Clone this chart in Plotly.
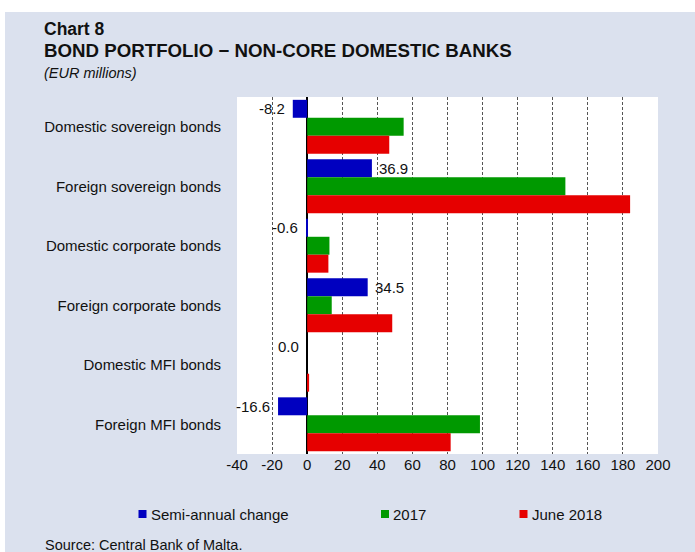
import plotly.graph_objects as go

# ---- data (EUR millions) ----
categories = [
    "Domestic sovereign bonds",
    "Foreign sovereign bonds",
    "Domestic corporate bonds",
    "Foreign corporate bonds",
    "Domestic MFI bonds",
    "Foreign MFI bonds",
]
semi_annual_change = [-8.2, 36.9, -0.6, 34.5, 0.0, -16.6]
end_2017 = [55.0, 147.2, 12.7, 14.0, 0.0, 98.5]
june_2018 = [46.8, 184.1, 12.1, 48.5, 1.1, 81.8]
series_names = ["Semi-annual change", "2017", "June 2018"]
x_tick_values = [-40, -20, 0, 20, 40, 60, 80, 100, 120, 140, 160, 180, 200]

# ---- styling ----
FONT = "Liberation Sans, Arial, sans-serif"
TEXT = "#111111"
PANEL = "#dbe1ee"
COLORS = ["#0000C0", "#009900", "#E60000"]
FS = 15  # body text size

W, H = 695, 552
ML, MR, MT, MB = 237, 37, 97, 98
PW, PH = W - ML - MR, H - MT - MB
BARGAP = 0.095


def px(x):
    """Page pixel x -> paper fraction."""
    return (x - ML) / PW


def py(y):
    """Page pixel y (from top) -> paper fraction."""
    return (H - MB - y) / PH


fig = go.Figure()
for name, vals, col in zip(series_names, [semi_annual_change, end_2017, june_2018], COLORS):
    fig.add_trace(go.Bar(
        y=categories, x=vals, name=name, orientation="h",
        marker=dict(color=col, line=dict(width=0)),
        showlegend=False, hoverinfo="x+name",
    ))

# value labels on the semi-annual change bars
bar_w = (1 - BARGAP) / 3
for i, v in enumerate(semi_annual_change):
    fig.add_annotation(
        x=v, y=i - bar_w, xref="x", yref="y", text=f"{v:.1f}", showarrow=False,
        xanchor="left" if v > 0 else "right", yanchor="middle",
        xshift=5 if v > 0 else -6,
        font=dict(family=FONT, size=FS, color=TEXT),
    )

# titles
titles = [
    ("<b>Chart 8</b>", 28.5, 17.5),
    ("<b>BOND PORTFOLIO \u2212 NON-CORE DOMESTIC BANKS</b>", 50, 18.7),
    ("<i>(EUR millions)</i>", 72.5, 14.5),
]
for txt, y, sz in titles:
    fig.add_annotation(
        x=px(42), y=py(y), xref="paper", yref="paper", text=txt, showarrow=False,
        xanchor="left", yanchor="middle", font=dict(family=FONT, size=sz, color=TEXT),
    )

# legend drawn as swatches + labels
legend_pos = [138.5, 381, 519.5]
for name, col, lx in zip(series_names, COLORS, legend_pos):
    fig.add_shape(
        type="rect", xref="paper", yref="paper",
        x0=px(lx), x1=px(lx + 8), y0=py(518), y1=py(510),
        fillcolor=col, line=dict(width=0),
    )
    fig.add_annotation(
        x=px(lx + 10), y=py(514), xref="paper", yref="paper", text=name, showarrow=False,
        xanchor="left", yanchor="middle", font=dict(family=FONT, size=FS, color=TEXT),
    )

# source note
fig.add_annotation(
    x=px(43), y=py(545), xref="paper", yref="paper", text="Source: Central Bank of Malta.",
    showarrow=False, xanchor="left", yanchor="middle",
    font=dict(family=FONT, size=14.5, color=TEXT),
)

# white strips around the tinted panel
fig.add_shape(type="rect", xref="paper", yref="paper", x0=px(0), x1=px(W), y0=py(12), y1=py(0),
              fillcolor="white", line=dict(width=0), layer="below")
fig.add_shape(type="rect", xref="paper", yref="paper", x0=px(0), x1=px(5), y0=py(H), y1=py(0),
              fillcolor="white", line=dict(width=0), layer="below")

fig.update_layout(
    width=W, height=H,
    margin=dict(l=ML, r=MR, t=MT, b=MB, pad=0),
    paper_bgcolor=PANEL, plot_bgcolor="white",
    barmode="group", bargap=BARGAP, bargroupgap=0,
    font=dict(family=FONT, size=FS, color=TEXT),
    showlegend=False,
)
fig.update_xaxes(
    range=[-40, 200], tickvals=x_tick_values, ticktext=[str(v) for v in x_tick_values],
    showgrid=True, gridcolor="#555555", griddash="3px,2px", gridwidth=1,
    zeroline=True, zerolinecolor="black", zerolinewidth=2.3,
    showline=False, ticks="", tickfont=dict(family=FONT, size=FS, color=TEXT),
    fixedrange=True,
)
fig.update_yaxes(
    type="category", categoryorder="array", categoryarray=categories,
    autorange="reversed", showgrid=False, zeroline=False, showline=False, ticks="",
    ticklabelstandoff=15, tickfont=dict(family=FONT, size=FS, color=TEXT),
    fixedrange=True,
)

fig.write_html("out.html")
